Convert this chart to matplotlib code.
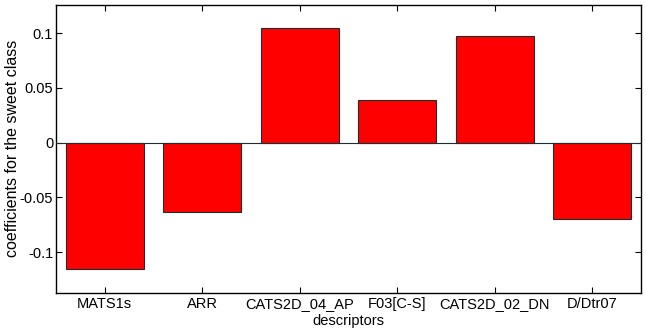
import numpy as np
import matplotlib.pyplot as plt

plt.rcParams['font.family'] = ['Liberation Sans', 'DejaVu Sans']
plt.rcParams['axes.unicode_minus'] = False

descriptors = ['MATS1s', 'ARR', 'CATS2D_04_AP', 'F03[C-S]', 'CATS2D_02_DN', 'D/Dtr07']
coefs = [-0.1152, -0.0637, 0.1045, 0.0392, 0.0976, -0.0701]
yticks = [-0.1, -0.05, 0, 0.05, 0.1]
ytick_labels = ['-0.1', '-0.05', '0', '0.05', '0.1']

fig = plt.figure(figsize=(6.46, 3.30), dpi=100)
ax = fig.add_axes([0.0867, 0.1136, 0.9056, 0.8722])

x = np.arange(1, len(descriptors) + 1)
ax.bar(x, coefs, width=0.8, color='#ff0000', edgecolor='#1a3030', linewidth=0.8, zorder=2)
ax.axhline(0, color='#1a3030', linewidth=0.8, zorder=3)

ax.set_xlim(0.5, 6.5)
ax.set_ylim(-0.137, 0.126)
ax.set_xticks(x)
ax.set_xticklabels(descriptors, fontsize=10.5)
ax.set_yticks(yticks)
ax.set_yticklabels(ytick_labels, fontsize=10.5)
ax.tick_params(axis='x', direction='in', length=4, width=0.8, top=True, pad=3)
ax.tick_params(axis='y', direction='in', length=4, width=0.8, right=True, pad=2)
for s in ax.spines.values():
    s.set_linewidth(1.0)

ax.set_xlabel('descriptors', fontsize=10.5, labelpad=2.5)
ax.set_ylabel('coefficients for the sweet class', fontsize=11.5, labelpad=0)

fig.savefig('out.png', dpi=100)
